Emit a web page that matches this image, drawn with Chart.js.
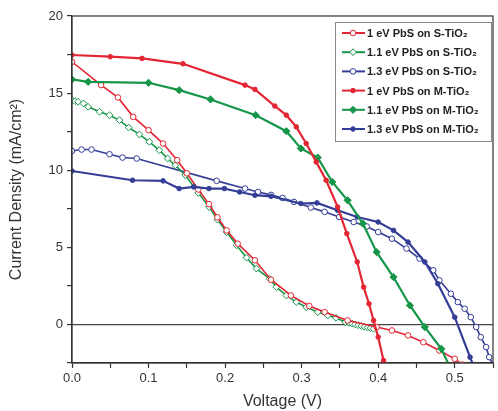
<!DOCTYPE html>
<html>
<head>
<meta charset="utf-8">
<script src="https://cdn.jsdelivr.net/npm/chart.js@4.4.0/dist/chart.umd.min.js"></script>
<style>
  html, body { margin: 0; padding: 0; background: #fff; }
  #wrap { width: 498px; height: 411px; }
</style>
</head>
<body>
<div id="wrap"><canvas id="myChart" width="498" height="411"></canvas></div>
<script>
// Series labels
const seriesNames = [
    '1 eV PbS on S-TiO\u2082',
    '1.1 eV PbS on S-TiO\u2082',
    '1.3 eV PbS on S-TiO\u2082',
    '1 eV PbS on M-TiO\u2082',
    '1.1 eV PbS on M-TiO\u2082',
    '1.3 eV PbS on M-TiO\u2082'
];

// Voltage (V) and current density (mA/cm2)
const s1V = [0, 0.038, 0.06, 0.08, 0.1, 0.119, 0.1375, 0.15, 0.165, 0.179, 0.19, 0.202, 0.2165, 0.239, 0.26, 0.286, 0.31, 0.33, 0.36, 0.398, 0.418, 0.439, 0.459, 0.48, 0.5, 0.51];
const s1J = [17.03, 15.52, 14.72, 13.46, 12.6, 11.73, 10.65, 9.8, 8.75, 7.8, 6.95, 6.1, 5.24, 4.16, 2.9, 1.88, 1.2, 0.8, 0.26, -0.17, -0.39, -0.71, -1.15, -1.69, -2.23, -2.6];

const s2V = [0, 0.004, 0.008, 0.015, 0.021, 0.036, 0.049, 0.062, 0.074, 0.088, 0.101, 0.114, 0.125, 0.135, 0.148, 0.165, 0.179, 0.19, 0.202, 0.215, 0.228, 0.241, 0.258, 0.267, 0.28, 0.293, 0.306, 0.321, 0.334, 0.345, 0.357, 0.362, 0.366, 0.37, 0.374, 0.378, 0.382, 0.386, 0.39, 0.394];
const s2J = [14.55, 14.48, 14.44, 14.33, 14.11, 13.79, 13.57, 13.25, 12.77, 12.32, 11.84, 11.3, 10.76, 10.32, 9.68, 8.53, 7.62, 6.8, 5.99, 5.13, 4.33, 3.62, 2.97, 2.42, 1.88, 1.45, 1.12, 0.8, 0.58, 0.43, 0.15, 0.1, 0.05, 0.0, -0.05, -0.1, -0.15, -0.2, -0.24, -0.28];

const s3V = [0, 0.0125, 0.0255, 0.049, 0.066, 0.0845, 0.189, 0.226, 0.243, 0.26, 0.275, 0.29, 0.312, 0.33, 0.349, 0.368, 0.385, 0.4, 0.418, 0.437, 0.454, 0.472, 0.48, 0.495, 0.504, 0.513, 0.521, 0.528, 0.534, 0.541, 0.545, 0.552];
const s3J = [11.25, 11.34, 11.34, 11.04, 10.82, 10.76, 9.31, 8.81, 8.59, 8.4, 8.2, 7.95, 7.58, 7.3, 6.97, 6.64, 6.35, 5.99, 5.56, 4.92, 4.27, 3.51, 2.86, 1.99, 1.45, 1.02, 0.47, -0.17, -0.82, -1.47, -2.12, -2.8];

const s4V = [0, 0.05, 0.0915, 0.145, 0.226, 0.239, 0.265, 0.28, 0.293, 0.306, 0.319, 0.332, 0.347, 0.359, 0.3726, 0.381, 0.388, 0.394, 0.4, 0.407, 0.412];
const s4J = [17.47, 17.36, 17.25, 16.9, 15.52, 15.24, 14.16, 13.57, 12.81, 11.73, 10.54, 9.35, 7.62, 5.89, 4.05, 2.42, 1.34, 0.26, -0.82, -2.34, -3.2];

const s5V = [0, 0.021, 0.1, 0.14, 0.181, 0.24, 0.28, 0.299, 0.321, 0.34, 0.36, 0.38, 0.398, 0.42, 0.4415, 0.461, 0.4825, 0.495];
const s5J = [15.89, 15.73, 15.67, 15.19, 14.59, 13.57, 12.53, 11.41, 10.82, 9.24, 8.05, 6.54, 4.69, 3.07, 1.23, -0.17, -1.58, -2.9];

const s6V = [0, 0.079, 0.119, 0.14, 0.159, 0.179, 0.199, 0.219, 0.239, 0.26, 0.299, 0.32, 0.347, 0.3726, 0.4, 0.42, 0.439, 0.461, 0.478, 0.5, 0.52, 0.527];
const s6J = [9.95, 9.35, 9.31, 8.81, 8.92, 8.81, 8.81, 8.59, 8.38, 8.31, 7.84, 7.88, 7.4, 6.97, 6.64, 6.1, 5.34, 4.05, 2.64, 0.47, -2.12, -3.0];

// Axis ticks
const xTickLabels = [0.0, 0.1, 0.2, 0.3, 0.4, 0.5];
const yTickLabels = [0, 5, 10, 15, 20];

const red = 'rgb(228, 38, 52)';
const green = 'rgb(22, 150, 72)';
const blue = 'rgb(52, 62, 150)';
const fontFam = '"Liberation Sans", Arial, sans-serif';

function pts(xs, ys) {
    return xs.map((x, i) => ({ x: x, y: ys[i] }));
}

function makeSet(i, xs, ys, color, style, filled, radius, width) {
    return {
        label: seriesNames[i],
        data: pts(xs, ys),
        showLine: true,
        borderColor: color,
        backgroundColor: filled ? color : '#ffffff',
        borderWidth: width,
        pointStyle: style,
        pointRadius: radius,
        pointBorderWidth: 1,
        pointBorderColor: color,
        pointBackgroundColor: filled ? color : '#ffffff',
        clip: 0
    };
}

const datasets = [
    makeSet(3, s4V, s4J, red, 'circle', true, 2.3, 2.2),
    makeSet(4, s5V, s5J, green, 'rectRot', true, 3.6, 2.2),
    makeSet(5, s6V, s6J, blue, 'circle', true, 2.3, 2.2),
    makeSet(0, s1V, s1J, red, 'circle', false, 2.8, 1.6),
    makeSet(1, s2V, s2J, green, 'rectRot', false, 3.4, 1.6),
    makeSet(2, s3V, s3J, blue, 'circle', false, 2.8, 1.6)
];

// draws the frame and the boxed legend inside the plot
const framePlugin = {
    id: 'frame',
    afterDraw(chart) {
        const c = chart.ctx;
        const a = chart.chartArea;
        c.save();
        c.strokeStyle = '#333';
        c.lineWidth = 1.2;
        c.strokeRect(a.left, a.top, a.right - a.left, a.bottom - a.top);

        // legend
        const lx = 335, ly = 22, lw = 156, lh = 119;
        c.fillStyle = '#fff';
        c.fillRect(lx, ly, lw, lh);
        c.strokeStyle = '#888';
        c.lineWidth = 1;
        c.strokeRect(lx + 0.5, ly + 0.5, lw, lh);
        c.font = 'bold 11px ' + fontFam;
        c.textBaseline = 'middle';
        seriesNames.forEach((name, r) => {
            const ds = chart.data.datasets.find(d => d.label === name);
            const y = ly + 11 + r * 19.2;
            c.strokeStyle = ds.borderColor;
            c.lineWidth = 2;
            c.beginPath();
            c.moveTo(lx + 7, y);
            c.lineTo(lx + 30, y);
            c.stroke();
            c.fillStyle = ds.pointBackgroundColor;
            c.lineWidth = 1;
            Chart.helpers.drawPoint(c, { pointStyle: ds.pointStyle, radius: ds.pointRadius, borderWidth: 1 }, lx + 18, y);
            c.fillStyle = '#222';
            c.fillText(name, lx + 32, y + 1);
        });
        c.restore();
    }
};

const ctx = document.getElementById('myChart').getContext('2d');
const myChart = new Chart(ctx, {
    type: 'scatter',
    data: { datasets: datasets },
    options: {
        responsive: false,
        animation: false,
        layout: { padding: { top: 16, right: 1, left: 7, bottom: 0 } },
        plugins: {
            legend: { display: false },
            tooltip: { enabled: false }
        },
        scales: {
            x: {
                type: 'linear',
                min: 0,
                max: 0.55,
                afterFit(scale) { scale.height = 48; },
                afterBuildTicks(scale) {
                    const t = [];
                    for (let i = 0; i <= 11; i++) t.push({ value: +(i * 0.05).toFixed(2) });
                    scale.ticks = t;
                },
                ticks: {
                    autoSkip: false,
                    maxRotation: 0,
                    padding: 3,
                    color: '#333',
                    font: { size: 13, family: fontFam },
                    callback(v) {
                        const hit = xTickLabels.find(l => Math.abs(l - v) < 1e-6);
                        return hit === undefined ? '' : hit.toFixed(1);
                    }
                },
                grid: { drawOnChartArea: false, tickLength: 5, tickColor: '#333', tickWidth: 1.2 },
                border: { color: '#333', width: 1.2 },
                title: {
                    display: true,
                    text: 'Voltage (V)',
                    color: '#333',
                    padding: { top: 0, bottom: 0 },
                    font: { size: 16, family: fontFam }
                }
            },
            y: {
                type: 'linear',
                min: -2.5,
                max: 20,
                afterFit(scale) { scale.width = 65; },
                afterBuildTicks(scale) {
                    const t = [];
                    for (let i = 0; i <= 9; i++) t.push({ value: -2.5 + i * 2.5 });
                    scale.ticks = t;
                },
                ticks: {
                    autoSkip: false,
                    padding: 4,
                    color: '#333',
                    font: { size: 13, family: fontFam },
                    callback(v) {
                        return yTickLabels.includes(v) ? String(v) : '';
                    }
                },
                grid: {
                    drawOnChartArea: true,
                    tickLength: 5,
                    tickColor: '#333',
                    tickWidth: 1.2,
                    lineWidth: 1.2,
                    color: c => (c.tick && c.tick.value === 0 ? '#444' : 'rgba(0,0,0,0)')
                },
                border: { color: '#333', width: 1.2 },
                title: {
                    display: true,
                    text: 'Current Density (mA/cm\u00B2)',
                    color: '#333',
                    padding: { top: 0, bottom: 2 },
                    font: { size: 16, family: fontFam }
                }
            }
        }
    },
    plugins: [framePlugin]
});
</script>
</body>
</html>
